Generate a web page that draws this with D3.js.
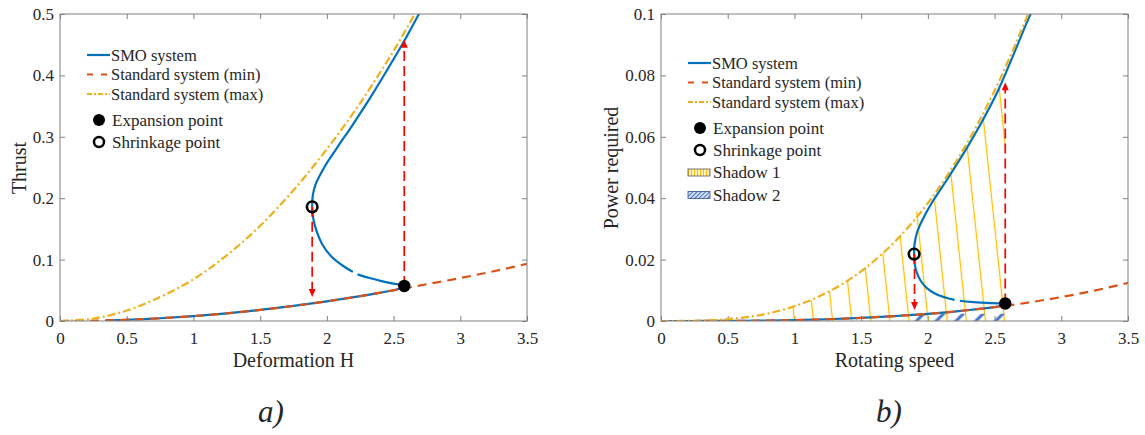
<!DOCTYPE html>
<html lang="en"><head><meta charset="UTF-8">
<script src="https://d3js.org/d3.v7.min.js"></script>
<style>
    body {margin:0; background:#fff;}
</style>
</head>
<body>
<div id="chart"></div>
<script>
//++++++++++++++++++++++++++++++++++++++++++++++++++++++++++++++++++++++++
// data
var xTicks = [0, 0.5, 1, 1.5, 2, 2.5, 3, 3.5];
var thrustTicks = [0, 0.1, 0.2, 0.3, 0.4, 0.5];
var powerTicks = [0, 0.02, 0.04, 0.06, 0.08, 0.1];

// panel a) thrust vs deformation H
var thrustMin = [[0,0],[0.25,0.0005],[0.5,0.002],[0.75,0.0045],[1,0.008],[1.25,0.0125],[1.5,0.018],[1.75,0.0245],[2,0.032],[2.25,0.0405],[2.5,0.05],[2.75,0.06],[3,0.07],[3.25,0.081],[3.5,0.093]];
var thrustMax = [[0,0],[0.25,0.004],[0.5,0.017],[0.75,0.039],[1,0.068],[1.25,0.107],[1.5,0.155],[1.75,0.213],[2,0.28],[2.25,0.355],[2.5,0.44],[2.66,0.5],[2.72,0.522]];
var thrustLower = [[0.35,0.001],[0.5,0.002],[0.75,0.0045],[1,0.008],[1.25,0.0125],[1.5,0.018],[1.75,0.0245],[2,0.032],[2.25,0.0405],[2.5,0.05],[2.58,0.055]];
var thrustUnstableA = [[2.58,0.058],[2.5,0.061],[2.41,0.065],[2.32,0.07],[2.23,0.076]];
var thrustUnstableB = [[2.195,0.08],[2.12,0.09],[2.03,0.106],[1.965,0.125],[1.925,0.145],[1.9,0.165],[1.89,0.186]];
var thrustUpper = [[1.89,0.186],[1.895,0.205],[1.915,0.222],[1.98,0.25],[2.07,0.28],[2.195,0.32],[2.315,0.36],[2.455,0.41],[2.585,0.458],[2.69,0.5],[2.74,0.52]];
var thrustExpansion = [2.58, 0.057];
var thrustShrinkage = [1.89, 0.186];
var thrustArrowDown = [[1.89,0.186],[1.89,0.039]];
var thrustArrowUp = [[2.58,0.057],[2.58,0.458]];

// panel b) power required vs rotating speed
var powerMin = [[0,0],[0.25,0.000005],[0.5,0.00004],[0.75,0.00012],[1,0.0003],[1.25,0.00057],[1.5,0.001],[1.75,0.0016],[2,0.0023],[2.25,0.0033],[2.5,0.0045],[2.75,0.006],[3,0.0078],[3.25,0.0099],[3.5,0.0124]];
var powerMax = [[0,0],[0.25,0.000075],[0.5,0.0006],[0.75,0.002],[1,0.0048],[1.25,0.0094],[1.5,0.0162],[1.75,0.0257],[2,0.0384],[2.25,0.0547],[2.5,0.075],[2.75,0.0998],[2.8,0.105]];
var powerLower = [[0,0],[0.25,0.000005],[0.5,0.00004],[0.75,0.00012],[1,0.0003],[1.25,0.00057],[1.5,0.001],[1.75,0.0016],[2,0.0023],[2.25,0.0033],[2.5,0.0045],[2.58,0.0052]];
var powerUnstableA = [[2.58,0.0057],[2.44,0.0059],[2.32,0.0062],[2.24,0.0066]];
var powerUnstableB = [[2.2,0.0069],[2.15,0.0074],[2.06,0.0088],[1.99,0.0108],[1.945,0.0132],[1.915,0.016],[1.9,0.019],[1.897,0.0218]];
var powerUpper = [[1.897,0.0218],[1.9,0.025],[1.92,0.029],[1.96,0.033],[2.03,0.0385],[2.15,0.0465],[2.28,0.0555],[2.4,0.0645],[2.52,0.0745],[2.62,0.0845],[2.72,0.095],[2.77,0.1],[2.8,0.103]];
var powerExpansion = [2.58, 0.0057];
var powerShrinkage = [1.897, 0.0218];
var powerArrowDown = [[1.9,0.0218],[1.9,0.0036]];
var powerArrowUp = [[2.58,0.0057],[2.58,0.0778]];
var shadow1Range = [0.95, 2.58, 2.02];   // start, end, switch from max curve to SMO upper branch
var shadow2Range = [1.88, 2.58, 0.0024]; // start, end, top of the strokes
//++++++++++++++++++++++++++++++++++++++++++++++++++++++++++++++++++++++++

var W = 1145, H = 435;
var cBlue = "#0072BD", cOrange = "#D95319", cYellow = "#EDB120", cAxis = "#808080";
var SERIF = "Liberation Serif";

var svg = d3.select("#chart").append("svg").attr("width", W).attr("height", H)
    .attr("font-family", SERIF);
var defs = svg.append("defs");

function txt(sel, size) {
    return sel.append("text").attr("font-family", SERIF).attr("font-size", size).attr("fill", "#262626");
}

function hatch(id, size, angle, color, width, bg, shift) {
    var p = defs.append("pattern").attr("id", id)
        .attr("patternUnits", "userSpaceOnUse")
        .attr("x", shift || 0)
        .attr("width", size).attr("height", size)
        .attr("patternTransform", "rotate(" + angle + ")");
    if (bg) p.append("rect").attr("width", size).attr("height", size).attr("fill", bg);
    p.append("line").attr("x1", size/2).attr("x2", size/2).attr("y1", 0).attr("y2", size)
        .attr("stroke", color).attr("stroke-width", width);
}
hatch("hatch1", 19, -6, "#FFC000", 1.3, null, 6);
hatch("hatch2", 14, 45, "#4472C4", 3, null, 0);
hatch("hatch1s", 3, 0, "#FFC000", 1.2, "#FFF6DA", 0);
hatch("hatch2s", 3, 45, "#4472C4", 1, "#D6E0F5", 0);

function interp(arr, xv) {
    for (var i = 1; i < arr.length; i++) {
        if (arr[i][0] >= xv) {
            var t = (xv - arr[i-1][0]) / (arr[i][0] - arr[i-1][0]);
            return arr[i-1][1] + t * (arr[i][1] - arr[i-1][1]);
        }
    }
    return arr[arr.length-1][1];
}

function drawPanel(p) {
    var x = d3.scaleLinear().domain([0, 3.5]).range(p.xr);
    var y = d3.scaleLinear().domain([0, p.yTicks[p.yTicks.length-1]]).range([321, 14]);
    var g = svg.append("g");

    defs.append("clipPath").attr("id", p.id + "clip")
        .append("rect").attr("x", p.xr[0]).attr("y", 14)
        .attr("width", p.xr[1] - p.xr[0]).attr("height", 307);

    // axes, ticks inside like matlab
    var fmt = function(d) { return String(d); };
    var ax = g.append("g").attr("transform", "translate(0,321)")
        .call(d3.axisBottom(x).tickValues(xTicks).tickFormat(fmt).tickSizeInner(-5).tickSizeOuter(0).tickPadding(11));
    var ay = g.append("g").attr("transform", "translate(" + p.xr[0] + ",0)")
        .call(d3.axisLeft(y).tickValues(p.yTicks).tickFormat(fmt).tickSizeInner(-5).tickSizeOuter(0).tickPadding(6));
    var at = g.append("g").attr("transform", "translate(0,14)")
        .call(d3.axisTop(x).tickValues(xTicks).tickFormat("").tickSizeInner(-5).tickSizeOuter(0));
    var ar = g.append("g").attr("transform", "translate(" + p.xr[1] + ",0)")
        .call(d3.axisRight(y).tickValues(p.yTicks).tickFormat("").tickSizeInner(-5).tickSizeOuter(0));
    [ax, ay, at, ar].forEach(function(a) {
        a.attr("font-family", SERIF).attr("font-size", 17);
        a.select(".domain").remove();
        a.selectAll("line").attr("stroke", cAxis);
        a.selectAll("text").attr("fill", "#262626");
    });

    var plot = g.append("g").attr("clip-path", "url(#" + p.id + "clip)");

    // shadows
    if (p.shadow1) {
        var area = d3.area().x(function(d) { return x(d[0]); })
            .y0(y(0)).y1(function(d) { return y(d[1]); }).curve(d3.curveMonotoneX);
        var r1 = shadow1Range;
        var top1 = [[r1[0], interp(powerMax, r1[0])]]
            .concat(powerMax.filter(function(d) { return d[0] > r1[0] && d[0] < r1[2]; }))
            .concat(powerUpper.filter(function(d) { return d[0] > r1[2] && d[0] < r1[1]; }))
            .concat([[r1[1], interp(powerUpper, r1[1])]]);
        plot.append("path").datum(top1).attr("d", area).attr("fill", "url(#hatch1)");
        var r2 = shadow2Range;
        var top2 = [[r2[0], interp(powerLower, r2[0])]]
            .concat(powerLower.filter(function(d) { return d[0] > r2[0] && d[0] <= r2[1]; }))
            .map(function(d) { return [d[0], Math.min(d[1], r2[2])]; });
        plot.append("path").datum(top2).attr("d", area).attr("fill", "url(#hatch2)");
    }

    var line = d3.line().x(function(d) { return x(d[0]); }).y(function(d) { return y(d[1]); })
        .curve(d3.curveCatmullRom.alpha(0.5));

    [p.lower, p.unstableA, p.unstableB, p.upper].forEach(function(s) {
        plot.append("path").datum(s).attr("d", line).attr("fill", "none")
            .attr("stroke", cBlue).attr("stroke-width", 2.2);
    });
    plot.append("path").datum(p.min).attr("d", line).attr("fill", "none")
        .attr("stroke", cOrange).attr("stroke-width", 2.2).attr("stroke-dasharray", "9,6");
    plot.append("path").datum(p.max).attr("d", line).attr("fill", "none")
        .attr("stroke", cYellow).attr("stroke-width", 2.2).attr("stroke-dasharray", "8,3,2,3");

    // red arrows
    [p.arrowDown, p.arrowUp].forEach(function(a) {
        var x0 = x(a[0][0]), y0 = y(a[0][1]), y1 = y(a[1][1]);
        var dir = y1 > y0 ? 1 : -1;
        plot.append("line").attr("x1", x0).attr("x2", x0).attr("y1", y0).attr("y2", y1 - dir*6)
            .attr("stroke", "#FF0000").attr("stroke-width", 1.7).attr("stroke-dasharray", "10,5");
        plot.append("path")
            .attr("d", "M" + x0 + "," + y1 + "L" + (x0-3.5) + "," + (y1 - dir*8) + "L" + (x0+3.5) + "," + (y1 - dir*8) + "Z")
            .attr("fill", "#FF0000");
    });

    // points
    g.append("circle").attr("cx", x(p.shrink[0])).attr("cy", y(p.shrink[1])).attr("r", 5.3)
        .attr("fill", "none").attr("stroke", "#000").attr("stroke-width", 2.6);
    g.append("circle").attr("cx", x(p.expand[0])).attr("cy", y(p.expand[1])).attr("r", 6.2).attr("fill", "#000");

    // box
    g.append("rect").attr("x", p.xr[0]).attr("y", 14).attr("width", p.xr[1] - p.xr[0]).attr("height", 307)
        .attr("fill", "none").attr("stroke", cAxis).attr("stroke-width", 1);

    // labels
    txt(g, 20).attr("x", (p.xr[0] + p.xr[1]) / 2).attr("y", 367).attr("text-anchor", "middle").text(p.xLabel);
    txt(g, 20).attr("transform", "translate(" + p.yLabelX + ",168) rotate(-90)")
        .attr("text-anchor", "middle").text(p.yLabel);
    txt(g, 31).attr("x", p.tagX).attr("y", 422).attr("font-style", "italic").text(p.tag);

    // legend
    var lx = p.legend[0], ly = p.legend[1];
    var items = [
        {t: "SMO system", c: cBlue, dash: null},
        {t: "Standard system (min)", c: cOrange, dash: "6,8"},
        {t: "Standard system (max)", c: cYellow, dash: "5,2,2,2"}
    ];
    items.forEach(function(it, i) {
        var yy = ly + i * 19.5;
        g.append("line").attr("x1", lx).attr("x2", lx + 23).attr("y1", yy).attr("y2", yy)
            .attr("stroke", it.c).attr("stroke-width", 2.2).attr("stroke-dasharray", it.dash);
        txt(g, 16.5).attr("x", lx + 24).attr("y", yy + 5.5).text(it.t);
    });
    var my = ly + 65;
    g.append("circle").attr("cx", lx + 12).attr("cy", my).attr("r", 6).attr("fill", "#000");
    txt(g, 17).attr("x", lx + 25).attr("y", my + 6).text("Expansion point");
    g.append("circle").attr("cx", lx + 12).attr("cy", my + 22).attr("r", 5).attr("fill", "none")
        .attr("stroke", "#000").attr("stroke-width", 2.5);
    txt(g, 17).attr("x", lx + 25).attr("y", my + 28).text("Shrinkage point");
    if (p.shadow1) {
        g.append("rect").attr("x", lx).attr("y", my + 41).attr("width", 22).attr("height", 7)
            .attr("fill", "url(#hatch1s)").attr("stroke", "#595959").attr("stroke-width", 0.8);
        txt(g, 17).attr("x", lx + 25).attr("y", my + 50).text("Shadow 1");
        g.append("rect").attr("x", lx).attr("y", my + 63.5).attr("width", 22).attr("height", 7)
            .attr("fill", "url(#hatch2s)").attr("stroke", "#2F4F8F").attr("stroke-width", 0.8);
        txt(g, 17).attr("x", lx + 25).attr("y", my + 73).text("Shadow 2");
    }
}

drawPanel({
    id: "a", xr: [60, 527], yTicks: thrustTicks,
    min: thrustMin, max: thrustMax, lower: thrustLower, unstableA: thrustUnstableA,
    unstableB: thrustUnstableB, upper: thrustUpper, expand: thrustExpansion, shrink: thrustShrinkage,
    arrowDown: thrustArrowDown, arrowUp: thrustArrowUp,
    xLabel: "Deformation H", yLabel: "Thrust", yLabelX: 26, tag: "a)", tagX: 258,
    legend: [87, 55], shadow1: false
});
drawPanel({
    id: "b", xr: [661, 1128], yTicks: powerTicks,
    min: powerMin, max: powerMax, lower: powerLower, unstableA: powerUnstableA,
    unstableB: powerUnstableB, upper: powerUpper, expand: powerExpansion, shrink: powerShrinkage,
    arrowDown: powerArrowDown, arrowUp: powerArrowUp,
    xLabel: "Rotating speed", yLabel: "Power required", yLabelX: 618, tag: "b)", tagX: 876,
    legend: [688, 63], shadow1: true
});
</script>
</body>
</html>
